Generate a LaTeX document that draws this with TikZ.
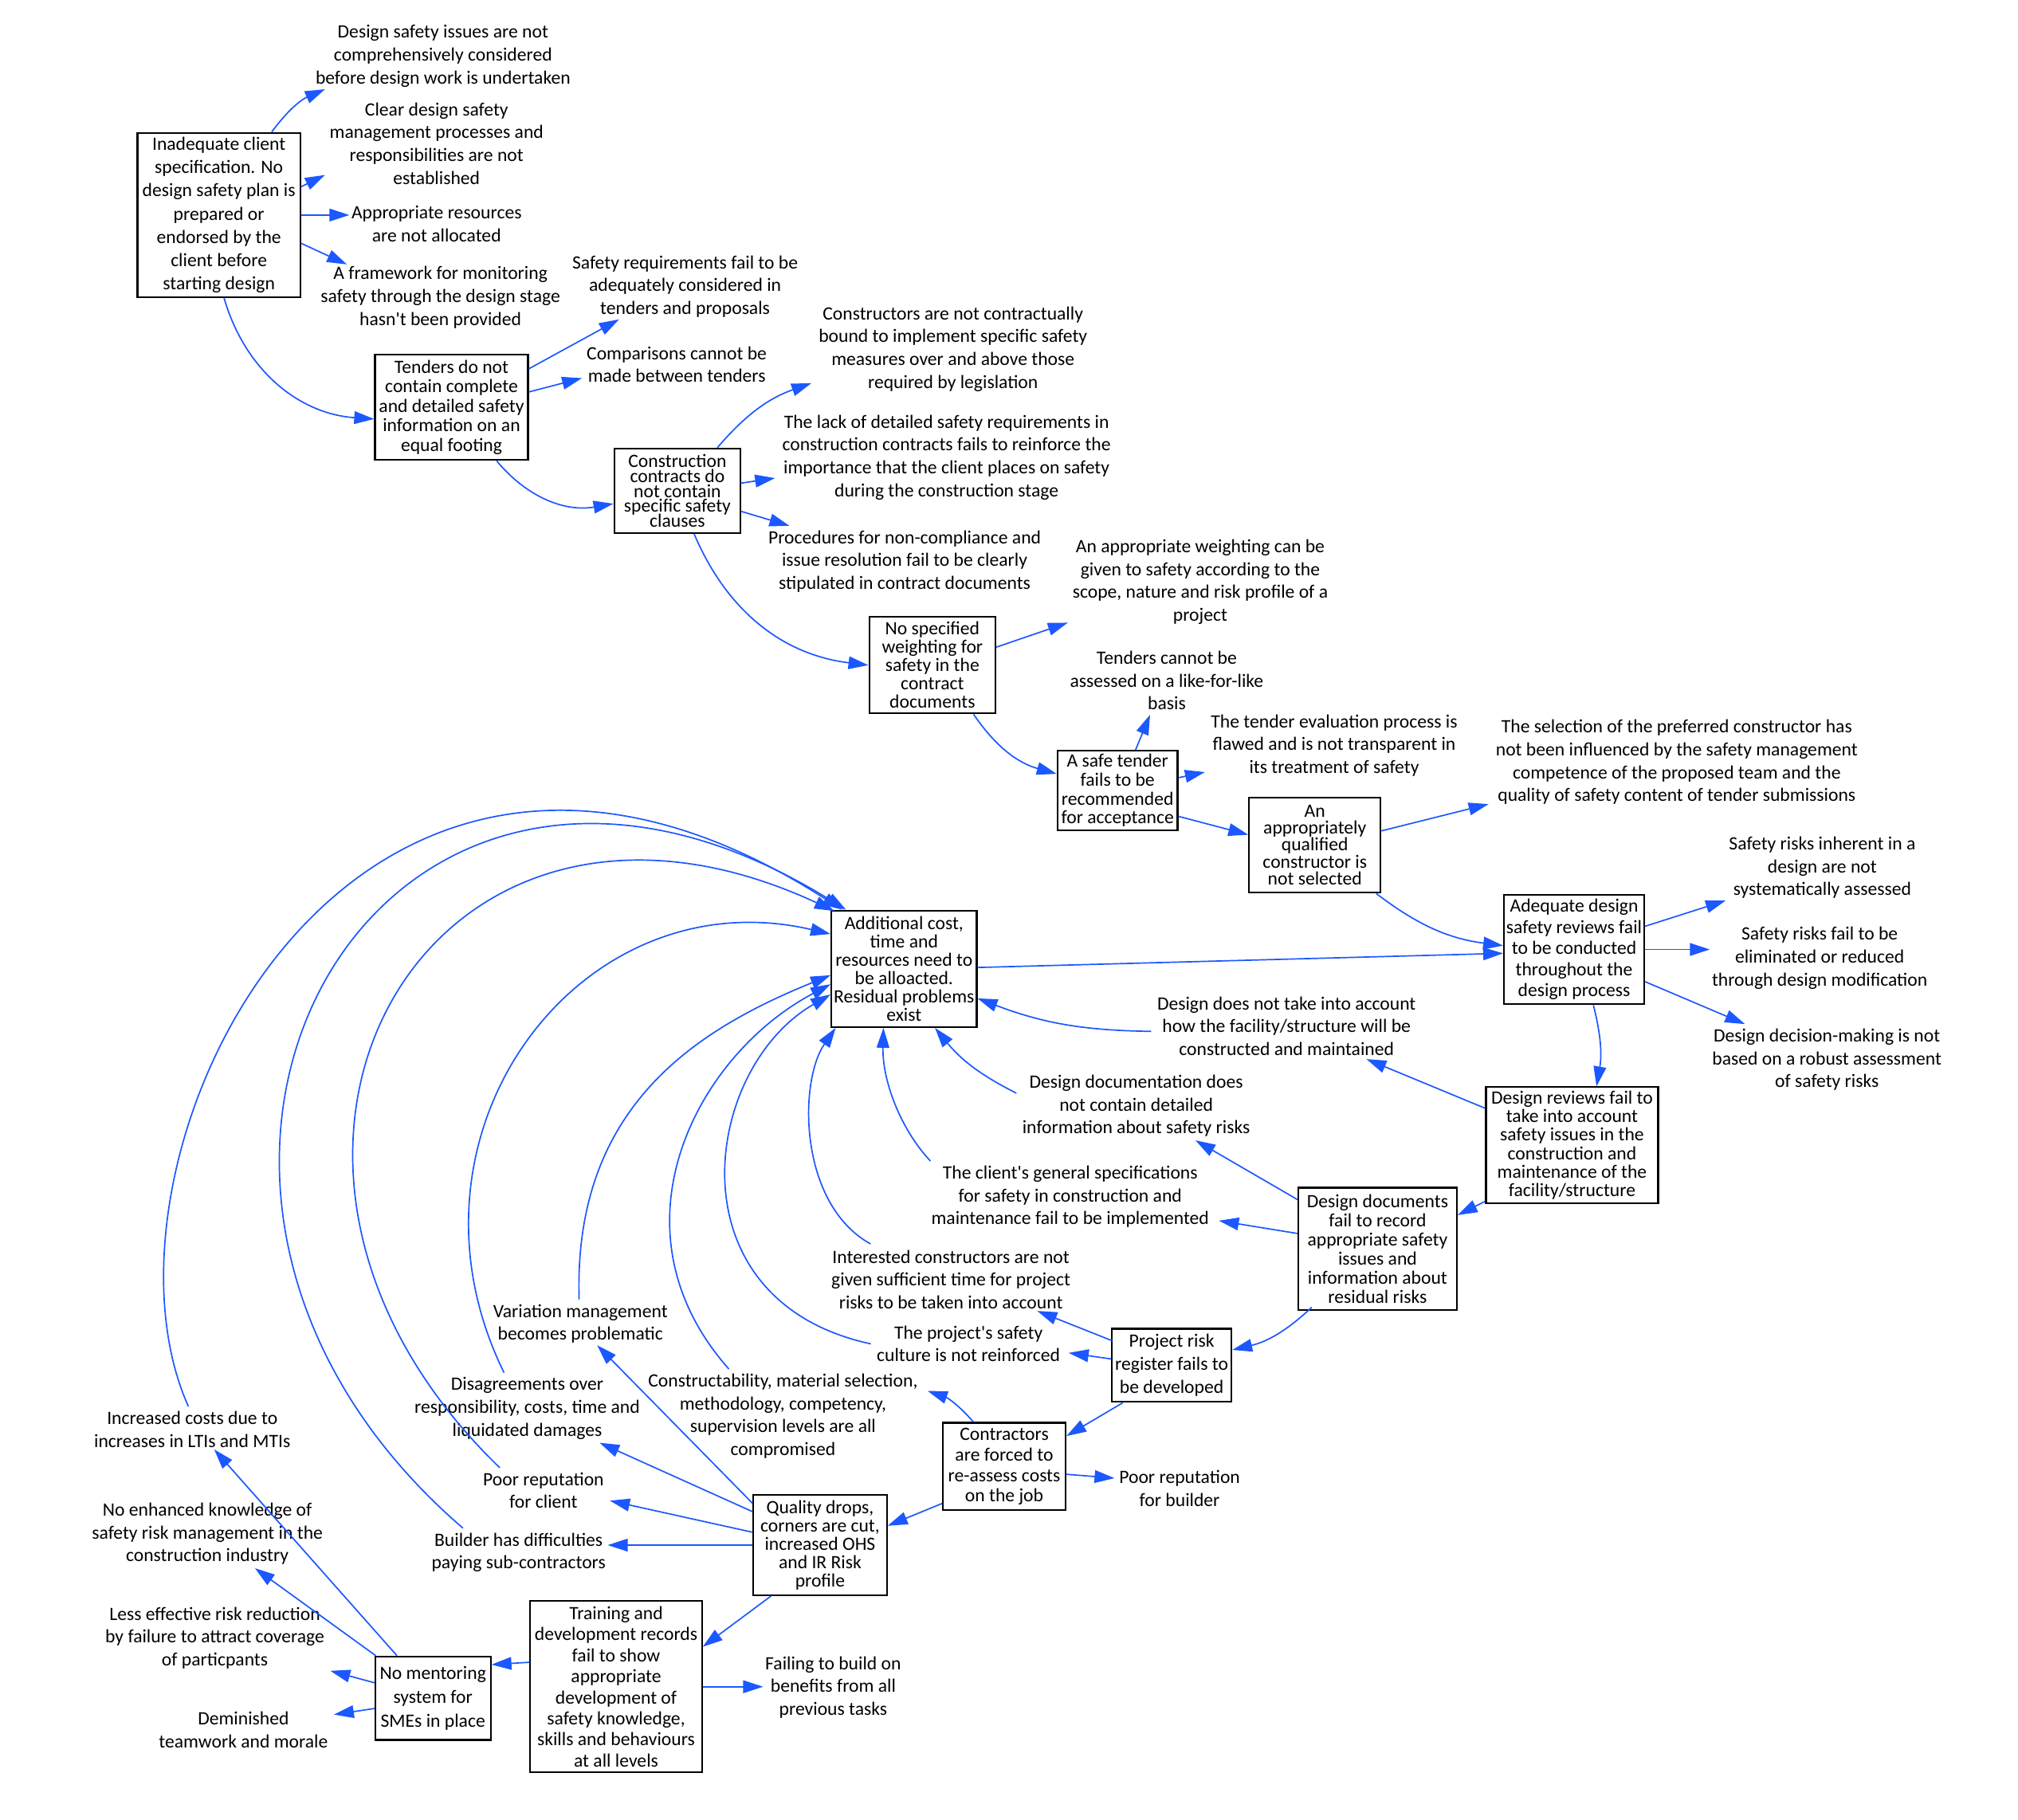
\documentclass[tikz,border=0pt]{standalone}
\usepackage{fontspec}
\setmainfont{Carlito}
\usetikzlibrary{arrows.meta,calc}
\definecolor{linkblue}{RGB}{28,88,255}
\newcommand{\tightskip}{\lineskiplimit=-10pt\relax}

\tikzset{
    box/.style={draw, line width=0.95pt, align=center, inner sep=1pt},
    lead/.style={font={\fontsize{10.4pt}{#1pt}\selectfont\tightskip}},
    lbl/.style={align=center, inner sep=1pt, font=\fontsize{10.4pt}{12.6pt}\selectfont},
    arr/.style={draw=linkblue, line width=0.75pt, -{Triangle[length=11pt,width=7pt]}}
}

\begin{document}
\begin{tikzpicture}[x=0.025cm, y=-0.025cm]
    \useasboundingbox (0,0) rectangle (1567,1413.5);

    % Client specification
    \node[box, lead=12.85, minimum width=3.16cm, minimum height=3.19cm] (spec) at (170,167)
        {Inadequate client\\specification. No\\design safety plan is\\prepared or\\endorsed by the\\client before\\starting design};
    \node[lbl] (issues) at (344,43.6) {Design safety issues are not\\comprehensively considered\\before design work is undertaken};
    \node[lbl] (clearproc) at (339,111.5) {Clear design safety\\management processes and\\responsibilities are not\\established};
    \node[lbl] (resources) at (339,174) {Appropriate resources\\are not allocated};
    \node[lbl] (framework) at (342,231) {A framework for monitoring\\safety through the design stage\\hasn\textquotesingle t been provided};

    % Tenders and contracts
    \node[box, lead=10.8, minimum width=2.97cm, minimum height=2.04cm] (tenders) at (350.6,316.4)
        {Tenders do not\\contain complete\\and detailed safety\\information on an\\equal footing};
    \node[lbl] (safereq) at (532,222.4) {Safety requirements fail to be\\adequately considered in\\tenders and proposals};
    \node[lbl] (compare) at (525.5,283) {Comparisons cannot be\\made between tenders};
    \node[box, lead=8.3, minimum width=2.45cm, minimum height=1.64cm] (contracts) at (526,381.2)
        {Construction\\contracts do\\not contain\\specific safety\\clauses};
    \node[lbl] (bound) at (740,271) {Constructors are not contractually\\bound to implement specific safety\\measures over and above those\\required by legislation};
    \node[lbl] (lack) at (735,355.3) {The lack of detailed safety requirements in\\construction contracts fails to reinforce the\\importance that the client places on safety\\during the construction stage};
    \node[lbl] (procedures) at (702.5,436) {Procedures for non-compliance and\\issue resolution fail to be clearly\\stipulated in contract documents};
    \node[box, lead=10.1, minimum width=2.45cm, minimum height=1.875cm] (weighting) at (724,516.6)
        {No specified\\weighting for\\safety in the\\contract\\documents};
    \node[lbl] (approweight) at (932,452) {An appropriate weighting can be\\given to safety according to the\\scope, nature and risk profile of a\\project};

    % Tender evaluation
    \node[box, lead=10.4, minimum width=2.33cm, minimum height=1.55cm] (safetender) at (867.8,614)
        {A safe tender\\fails to be\\recommended\\for acceptance};
    \node[lbl] (likeforlike) at (906,528.6) {Tenders cannot be\\assessed on a like-for-like\\basis};
    \node[lbl] (evalflawed) at (1036,579) {The tender evaluation process is\\flawed and is not transparent in\\its treatment of safety};
    \node[box, lead=9.4, minimum width=2.55cm, minimum height=1.85cm] (constructor) at (1021,656.3)
        {An\\appropriately\\qualified\\constructor is\\not selected};
    \node[lbl] (selection) at (1302,592) {The selection of the preferred constructor has\\not been influenced by the safety management\\competence of the proposed team and the\\quality of safety content of tender submissions};

    % Design reviews
    \node[box, lead=11.7, minimum width=2.72cm, minimum height=2.13cm] (reviews) at (1222.3,737.4)
        {Adequate design\\safety reviews fail\\to be conducted\\throughout the\\design process};
    \node[lbl] (inherent) at (1415,673.8) {Safety risks inherent in a\\design are not\\systematically assessed};
    \node[lbl] (eliminated) at (1413,744) {Safety risks fail to be\\eliminated or reduced\\through design modification};
    \node[lbl] (decision) at (1418.6,823) {Design decision-making is not\\based on a robust assessment\\of safety risks};
    \node[box, lead=10.2, minimum width=3.34cm, minimum height=2.25cm] (revconst) at (1220.7,889.4)
        {Design reviews fail to\\take into account\\safety issues in the\\construction and\\maintenance of the\\facility/structure};
    \node[lbl] (facility) at (999,797) {Design does not take into account\\how the facility/structure will be\\constructed and maintained};
    \node[box, lead=10.5, minimum width=3.07cm, minimum height=2.38cm] (docs) at (1069.7,970)
        {Design documents\\fail to record\\appropriate safety\\issues and\\information about\\residual risks};
    \node[lbl] (doccontent) at (882.3,859) {Design documentation does\\not contain detailed\\information about safety risks};
    \node[lbl] (clientspec) at (831,929.4) {The client\textquotesingle s general specifications\\for safety in construction and\\maintenance fail to be implemented};

    % Central outcome
    \node[box, lead=10.1, minimum width=2.82cm, minimum height=2.26cm] (cost) at (702,752.4)
        {Additional cost,\\time and\\resources need to\\be alloacted.\\Residual problems\\exist};

    % Construction stage
    \node[box, lead=12.8, minimum width=2.32cm, minimum height=1.42cm] (riskreg) at (909.8,1060.4)
        {Project risk\\register fails to\\be developed};
    \node[lbl] (interested) at (738.4,993.6) {Interested constructors are not\\given sufficient time for project\\risks to be taken into account};
    \node[lbl] (culture) at (752,1043.7) {The project\textquotesingle s safety\\culture is not reinforced};
    \node[box, lead=11.4, minimum width=2.38cm, minimum height=1.70cm] (reassess) at (779.8,1139)
        {Contractors\\are forced to\\re-assess costs\\on the job};
    \node[lbl] (constructability) at (608,1099.8) {Constructability, material selection,\\methodology, competency,\\supervision levels are all\\compromised};
    \node[lbl] (repbuilder) at (916,1156) {Poor reputation\\for builder};
    \node[box, lead=10.1, minimum width=2.59cm, minimum height=1.94cm] (quality) at (636.8,1200)
        {Quality drops,\\corners are cut,\\increased OHS\\and IR Risk\\profile};
    \node[lbl] (variation) at (450.7,1028) {Variation management\\becomes problematic};
    \node[lbl] (disagree) at (409.4,1093.8) {Disagreements over\\responsibility, costs, time and\\liquidated damages};
    \node[lbl] (repclient) at (422,1157.5) {Poor reputation\\for client};
    \node[lbl] (builder) at (402.7,1205.7) {Builder has difficulties\\paying sub-contractors};

    % Training and mentoring
    \node[box, lead=11.6, minimum width=3.33cm, minimum height=3.33cm] (training) at (478.4,1310)
        {Training and\\development records\\fail to show\\appropriate\\development of\\safety knowledge,\\skills and behaviours\\at all levels};
    \node[lbl] (failing) at (647,1310.4) {Failing to build on\\benefits from all\\previous tasks};
    \node[box, lead=13.2, minimum width=2.24cm, minimum height=1.62cm] (mentor) at (336.2,1318.9)
        {No mentoring\\system for\\SMEs in place};
    \node[lbl] (ltis) at (149.3,1110) {Increased costs due to\\increases in LTIs and MTIs};
    \node[lbl] (knowledge) at (161,1191.3) {No enhanced knowledge of\\safety risk management in the\\construction industry};
    \node[lbl] (lesseff) at (166.8,1272) {Less effective risk reduction\\by failure to attract coverage\\of particpants};
    \node[lbl] (teamwork) at (189,1343.3) {Deminished\\teamwork and morale};

    % Links from the client specification
    \draw[arr] ($(spec.north)+(41,0)$) to[bend left=15] ($(issues.south west)+(9,0)$);
    \draw[arr] ($(spec.east)+(0,-22)$) -- ($(clearproc.south west)+(-2,-9)$);
    \draw[arr] (spec.east) -- (spec.east -| resources.west);
    \draw[arr] ($(spec.east)+(0,22)$) -- ($(framework.north west)+(22,0)$);
    \draw[arr] ($(spec.south)+(4,0)$) to[bend right=35] ($(tenders.west)+(0,9)$);

    % Tenders and contracts
    \draw[arr] ($(tenders.east)+(0,-30)$) -- ($(safereq.south west)+(38,0)$);
    \draw[arr] ($(tenders.east)+(0,-12)$) -- ($(compare.south west)+(-2,-5)$);
    \draw[arr] ($(tenders.south)+(35,0)$) to[bend right=30] ($(contracts.west)+(0,10)$);
    \draw[arr] ($(contracts.north)+(31,0)$) to[bend left=15] ($(bound.south west)+(-4,-8)$);
    \draw[arr] ($(contracts.east)+(0,-6)$) -- ($(lack.west)+(-4,16)$);
    \draw[arr] ($(contracts.east)+(0,16)$) -- ($(procedures.north west)+(18,-2)$);
    \draw[arr] ($(contracts.south)+(13,0)$) to[bend right=30] (weighting.west);
    \draw[arr] ($(weighting.east)+(0,-14)$) -- ($(approweight.south west)+(-2,-3)$);
    \draw[arr] ($(weighting.south)+(32,0)$) to[bend right=20] ($(safetender.west)+(0,-13)$);

    % Tender evaluation
    \draw[arr] ($(safetender.north)+(14,0)$) -- ($(likeforlike.south)+(-13,2)$);
    \draw[arr] ($(safetender.east)+(0,-10)$) -- ($(evalflawed.south west)+(-3,-5)$);
    \draw[arr] ($(safetender.east)+(0,20)$) -- ($(constructor.west)+(0,-8)$);
    \draw[arr] ($(constructor.east)+(0,-11)$) -- ($(selection.south west)+(-4,-2)$);
    \draw[arr] ($(constructor.south east)+(-4,0)$) to[bend right=15] ($(reviews.west)+(0,-3)$);

    % Design reviews
    \draw[arr] ($(reviews.east)+(0,-18)$) -- ($(inherent.south west)+(-1,0)$);
    \draw[arr] (reviews.east) -- (reviews.east -| eliminated.west);
    \draw[arr] ($(reviews.east)+(0,25)$) -- ($(decision.north west)+(27,-2)$);
    \draw[arr] ($(reviews.south)+(15,0)$) to[bend left=12] ($(revconst.north)+(19,0)$);
    \draw[arr] ($(revconst.north west)+(0,17)$) -- ($(facility.south)+(62,1)$);
    \draw[arr] ($(revconst.south west)+(0,-2)$) -- ($(docs.north east)+(0,22)$);
    \draw[arr] ($(docs.north west)+(0,10)$) -- ($(doccontent.south)+(46,1)$);
    \draw[arr] ($(docs.west)+(0,-12)$) -- ($(clientspec.south east)+(6,-7)$);
    \draw[arr] ($(docs.south west)+(11,-3)$) to[bend left=15] ($(riskreg.east)+(0,-12)$);
    \draw[arr] ($(cost.east)+(0,-1)$) -- ($(reviews.west)+(0,3)$);

    % Construction stage
    \draw[arr] ($(riskreg.north west)+(1,10)$) -- ($(interested.south)+(67,0)$);
    \draw[arr] ($(riskreg.west)+(0,-5)$) -- ($(culture.east)+(5,7)$);
    \draw[arr] ($(riskreg.south)+(-38,0)$) -- ($(reassess.north east)+(0,11)$);
    \draw[arr] ($(reassess.north)+(-24,0)$) to[bend right=15] ($(constructability.north east)+(6,15)$);
    \draw[arr] ($(reassess.east)+(0,6)$) -- ($(repbuilder.west)+(-2,-8)$);
    \draw[arr] ($(reassess.south west)+(0,-6)$) -- ($(quality.east)+(0,-15)$);
    \draw[arr] ($(quality.north west)+(0,7)$) -- ($(variation.south)+(13,0)$);
    \draw[arr] ($(quality.west)+(0,-26)$) -- ($(disagree.south east)+(-33,1)$);
    \draw[arr] ($(quality.west)+(0,-10)$) -- ($(repclient.east)+(3,8)$);
    \draw[arr] (quality.west) -- (quality.west -| builder.east);
    \draw[arr] ($(quality.south)+(-38,0)$) -- ($(training.east)+(0,-31)$);

    % Training and mentoring
    \draw[arr] (training.east) -- (training.east -| failing.west);
    \draw[arr] ($(training.west)+(0,-19)$) -- ($(mentor.north east)+(0,7)$);
    \draw[arr] ($(mentor.north)+(-28,0)$) -- ($(ltis.south)+(17,0)$);
    \draw[arr] ($(mentor.north west)+(1,0)$) -- ($(knowledge.south)+(37,1)$);
    \draw[arr] ($(mentor.west)+(0,-12)$) -- ($(lesseff.south east)+(3,0)$);
    \draw[arr] ($(mentor.west)+(0,8)$) -- ($(teamwork.north east)+(3,4)$);

    % Feedback into additional cost
    \draw[arr] ($(ltis.north)+(-3,-2)$) .. controls (60,900) and (270,460) .. ($(cost.north west)+(9,0)$);
    \draw[arr] ($(builder.north west)+(26,-2)$) .. controls (50,920) and (290,480) .. ($(cost.north west)+(12,0)$);
    \draw[arr] ($(repclient.north)+(-34,-2)$) .. controls (140,900) and (330,560) .. ($(cost.north west)+(3,1)$);
    \draw[arr] ($(disagree.north)+(-18,-2)$) .. controls (300,880) and (450,680) .. ($(cost.west)+(0,-27)$);
    \draw[arr] ($(variation.north)+(-1,-2)$) .. controls (445,860) and (540,800) .. ($(cost.west)+(0,5)$);
    \draw[arr] ($(constructability.north)+(-42,-2)$) .. controls (470,955) and (540,820) .. ($(cost.west)+(0,12)$);
    \draw[arr] ($(culture.west)+(-3,0)$) .. controls (520,1010) and (545,830) .. ($(cost.west)+(0,20)$);
    \draw[arr] ($(interested.north west)+(32,-3)$) .. controls (620,935) and (620,840) .. ($(cost.south west)+(4,0)$);
    \draw[arr] ($(clientspec.north west)+(1,-2)$) .. controls (700,878) and (685,840) .. ($(cost.south)+(-16,0)$);
    \draw[arr] ($(doccontent.west)+(-3,-10)$) to[bend left=12] ($(cost.south)+(24,0)$);
    \draw[arr] ($(facility.west)+(-3,4)$) to[bend left=10] ($(cost.east)+(0,23)$);
\end{tikzpicture}
\end{document}
